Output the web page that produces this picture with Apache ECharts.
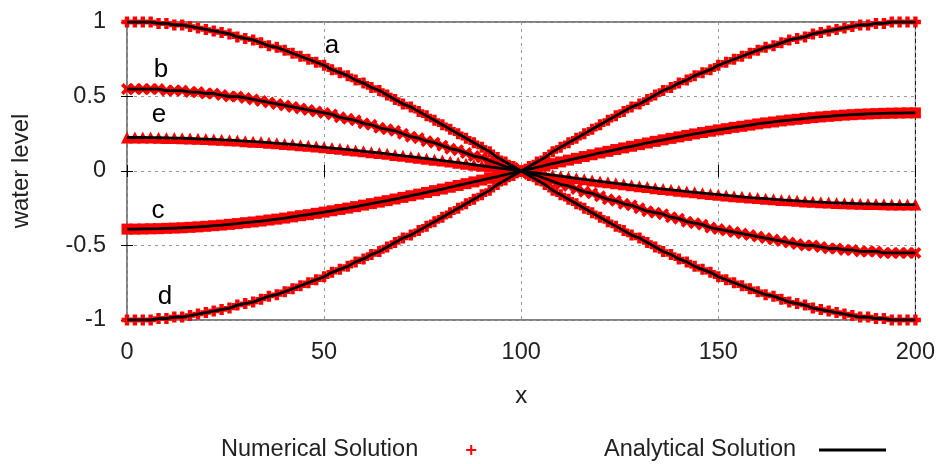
<!DOCTYPE html>
<html><head><meta charset="utf-8">
<script src="https://cdn.jsdelivr.net/npm/echarts@6/dist/echarts.min.js"></script>
<style>html,body{margin:0;padding:0;background:#fff}#c{width:938px;height:464px}</style>
</head><body><div id="c"></div>
<script>
// x positions (step 2)
const xValues = [0,2,4,6,8,10,12,14,16,18,20,22,24,26,28,30,32,34,36,38,40,42,44,46,48,50,52,54,56,58,60,62,64,66,68,70,72,74,76,78,80,82,84,86,88,90,92,94,96,98,100,102,104,106,108,110,112,114,116,118,120,122,124,126,128,130,132,134,136,138,140,142,144,146,148,150,152,154,156,158,160,162,164,166,168,170,172,174,176,178,180,182,184,186,188,190,192,194,196,198,200];

const curveA = [1.00,1.00,1.00,1.00,0.99,0.99,0.98,0.98,0.97,0.96,0.95,0.94,0.93,0.92,0.90,0.89,0.88,0.86,0.84,0.83,0.81,0.79,0.77,0.75,0.73,0.71,0.68,0.66,0.64,0.61,0.59,0.56,0.54,0.51,0.48,0.45,0.43,0.40,0.37,0.34,0.31,0.28,0.25,0.22,0.19,0.16,0.13,0.09,0.06,0.03,0.00,
-0.03,-0.06,-0.09,-0.13,-0.16,-0.19,-0.22,-0.25,-0.28,-0.31,-0.34,-0.37,-0.40,-0.43,-0.45,-0.48,-0.51,-0.54,-0.56,-0.59,-0.61,-0.64,-0.66,-0.68,-0.71,-0.73,-0.75,-0.77,-0.79,-0.81,-0.83,-0.84,-0.86,-0.88,-0.89,-0.90,-0.92,-0.93,-0.94,-0.95,-0.96,-0.97,-0.98,-0.98,-0.99,-0.99,-1.00,-1.00,-1.00,-1.00];

const curveB = [0.55,0.55,0.55,0.55,0.55,0.54,0.54,0.54,0.53,0.53,0.52,0.52,0.51,0.50,0.50,0.49,0.48,0.47,0.46,0.45,0.44,0.43,0.42,0.41,0.40,0.39,0.38,0.36,0.35,0.34,0.32,0.31,0.29,0.28,0.27,0.25,0.23,0.22,0.20,0.19,0.17,0.15,0.14,0.12,0.10,0.09,0.07,0.05,0.03,0.02,0.00,
-0.02,-0.03,-0.05,-0.07,-0.09,-0.10,-0.12,-0.14,-0.15,-0.17,-0.19,-0.20,-0.22,-0.23,-0.25,-0.27,-0.28,-0.29,-0.31,-0.32,-0.34,-0.35,-0.36,-0.38,-0.39,-0.40,-0.41,-0.42,-0.43,-0.44,-0.45,-0.46,-0.47,-0.48,-0.49,-0.50,-0.50,-0.51,-0.52,-0.52,-0.53,-0.53,-0.54,-0.54,-0.54,-0.55,-0.55,-0.55,-0.55,-0.55];

const curveE = [0.225,0.225,0.225,0.224,0.223,0.222,0.221,0.220,0.218,0.216,0.214,0.212,0.209,0.207,0.204,0.200,0.197,0.194,0.190,0.186,0.182,0.178,0.173,0.169,0.164,0.159,0.154,0.149,0.143,0.138,0.132,0.126,0.121,0.115,0.108,0.102,0.096,0.089,0.083,0.076,0.070,0.063,0.056,0.049,0.042,0.035,0.028,0.021,0.014,0.007,0,
-0.007,-0.014,-0.021,-0.028,-0.035,-0.042,-0.049,-0.056,-0.063,-0.070,-0.076,-0.083,-0.089,-0.096,-0.102,-0.108,-0.115,-0.121,-0.126,-0.132,-0.138,-0.143,-0.149,-0.154,-0.159,-0.164,-0.169,-0.173,-0.178,-0.182,-0.186,-0.190,-0.194,-0.197,-0.200,-0.204,-0.207,-0.209,-0.212,-0.214,-0.216,-0.218,-0.220,-0.221,-0.222,-0.223,-0.224,-0.225,-0.225,-0.225];

const curveC = [-0.390,-0.390,-0.389,-0.388,-0.387,-0.385,-0.383,-0.381,-0.378,-0.375,-0.371,-0.367,-0.363,-0.358,-0.353,-0.347,-0.342,-0.336,-0.329,-0.323,-0.316,-0.308,-0.300,-0.293,-0.284,-0.276,-0.267,-0.258,-0.249,-0.239,-0.229,-0.219,-0.209,-0.199,-0.188,-0.177,-0.166,-0.155,-0.144,-0.132,-0.121,-0.109,-0.097,-0.085,-0.073,-0.061,-0.049,-0.037,-0.024,-0.012,0,
0.012,0.024,0.037,0.049,0.061,0.073,0.085,0.097,0.109,0.121,0.132,0.144,0.155,0.166,0.177,0.188,0.199,0.209,0.219,0.229,0.239,0.249,0.258,0.267,0.276,0.284,0.293,0.300,0.308,0.316,0.323,0.329,0.336,0.342,0.347,0.353,0.358,0.363,0.367,0.371,0.375,0.378,0.381,0.383,0.385,0.387,0.388,0.389,0.390,0.390];

const curveD = [-1.00,-1.00,-1.00,-1.00,-0.99,-0.99,-0.98,-0.98,-0.97,-0.96,-0.95,-0.94,-0.93,-0.92,-0.90,-0.89,-0.88,-0.86,-0.84,-0.83,-0.81,-0.79,-0.77,-0.75,-0.73,-0.71,-0.68,-0.66,-0.64,-0.61,-0.59,-0.56,-0.54,-0.51,-0.48,-0.45,-0.43,-0.40,-0.37,-0.34,-0.31,-0.28,-0.25,-0.22,-0.19,-0.16,-0.13,-0.09,-0.06,-0.03,0.00,
0.03,0.06,0.09,0.13,0.16,0.19,0.22,0.25,0.28,0.31,0.34,0.37,0.40,0.43,0.45,0.48,0.51,0.54,0.56,0.59,0.61,0.64,0.66,0.68,0.71,0.73,0.75,0.77,0.79,0.81,0.83,0.84,0.86,0.88,0.89,0.90,0.92,0.93,0.94,0.95,0.96,0.97,0.98,0.98,0.99,0.99,1.00,1.00,1.00,1.00];

const curveNames = ['a','b','e','c','d'];
const curves = [curveA, curveB, curveE, curveC, curveD];
const legendNames = ['Numerical Solution','Analytical Solution'];
const xAxisName = 'x';
const yAxisName = 'water level';

const FONT = "'Liberation Sans',Arial,sans-serif";
const PLUS = 'path://M3,0H7V3H10V7H7V10H3V7H0V3H3Z';
const PLUS_THIN = 'path://M4,0H6V4H10V6H6V10H4V6H0V4H4Z';
const CROSS = 'path://M0,2.2L2.2,0L5,2.8L7.8,0L10,2.2L7.2,5L10,7.8L7.8,10L5,7.2L2.2,10L0,7.8L2.8,5Z';
const markStyles = [
  {symbol: PLUS, size: 11},
  {symbol: CROSS, size: 12},
  {symbol: 'triangle', size: 12},
  {symbol: 'rect', size: 11},
  {symbol: PLUS, size: 11}
];
const labelPos = [[332,46],[161,70],[159,115],[158,211],[165,297]];

function pairs(ys){ return xValues.map((x,i)=>[x, ys[i]]); }

const series = [];
curves.forEach((ys, i) => {
  series.push({
    type: 'scatter', name: legendNames[0], data: pairs(ys),
    symbol: markStyles[i].symbol, symbolSize: markStyles[i].size,
    itemStyle: {color: '#ff0000', opacity: 1}, clip: false, z: 2, silent: true
  });
});
curves.forEach((ys) => {
  series.push({
    type: 'line', name: legendNames[1], data: pairs(ys),
    showSymbol: false, symbol: 'none', lineStyle: {color: '#000', width: 2.8},
    itemStyle: {color: '#000'}, z: 5, silent: true
  });
});

const axisText = {fontFamily: FONT, fontSize: 23.5, color: '#222'};
const tickStyle = {show: true, inside: true, length: 6, lineStyle: {color: '#000', width: 1}};
const gridLine = {show: true, lineStyle: {color: '#999', type: [3, 4], width: 1}};

const chart = echarts.init(document.getElementById('c'), null, {renderer: 'canvas'});
chart.setOption({
  animation: false,
  backgroundColor: '#fff',
  grid: {left: 127, right: 21, top: 22, bottom: 144, show: true, borderColor: '#000', borderWidth: 1, backgroundColor: 'transparent'},
  xAxis: [
    {type: 'value', min: 0, max: 200, interval: 50, position: 'bottom',
     name: xAxisName, nameLocation: 'middle', nameGap: 64, nameTextStyle: {fontFamily: FONT, fontSize: 24, color: '#222'},
     axisLine: {show: false}, axisTick: tickStyle, axisLabel: Object.assign({margin: 21}, axisText), splitLine: gridLine},
    {type: 'value', min: 0, max: 200, interval: 50, position: 'top',
     axisLine: {show: false}, axisTick: tickStyle, axisLabel: {show: false}, splitLine: {show: false}}
  ],
  yAxis: [
    {type: 'value', min: -1, max: 1, interval: 0.5, position: 'left',
     name: yAxisName, nameLocation: 'middle', nameGap: 94, nameRotate: 90, nameTextStyle: {fontFamily: FONT, fontSize: 24, color: '#222'},
     axisLine: {show: false}, axisTick: tickStyle, axisLabel: Object.assign({margin: 21}, axisText), splitLine: gridLine},
    {type: 'value', min: -1, max: 1, interval: 0.5, position: 'right',
     axisLine: {show: false}, axisTick: tickStyle, axisLabel: {show: false}, splitLine: {show: false}}
  ],
  legend: [
    {data: [{name: legendNames[0], icon: PLUS_THIN}], left: 221, top: 438, align: 'right', padding: 0,
     itemWidth: 10, itemHeight: 10, selectedMode: false,
     textStyle: {fontFamily: FONT, fontSize: 23.5, color: '#222', padding: [0, 43, 0, 0]}},
    {data: [{name: legendNames[1], icon: 'rect'}], left: 604, top: 438, align: 'right', padding: 0,
     itemWidth: 67, itemHeight: 3, selectedMode: false,
     textStyle: {fontFamily: FONT, fontSize: 23.5, color: '#222', padding: [0, 18, 0, 0]}}
  ],
  graphic: curveNames.map((n, i) => ({
    type: 'text', x: labelPos[i][0], y: labelPos[i][1], z: 10,
    style: {text: n, font: '26px ' + FONT, fill: '#000', align: 'center', verticalAlign: 'middle'}
  })),
  series: series
});
</script>
</body></html>
